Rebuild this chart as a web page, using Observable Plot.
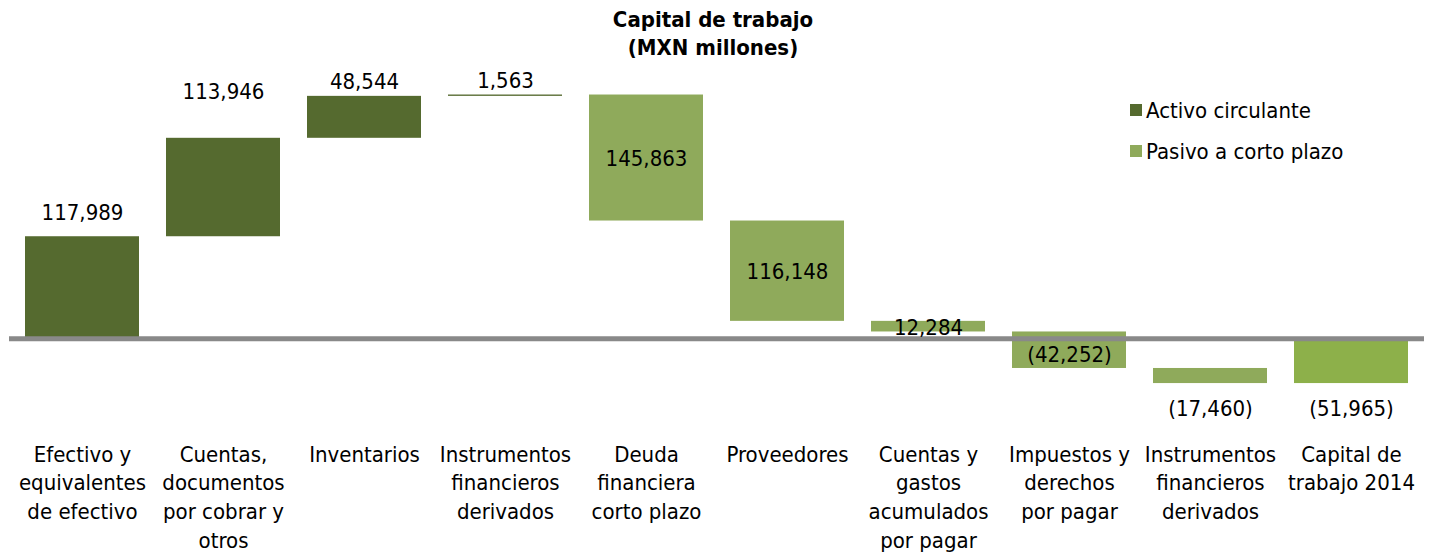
<!DOCTYPE html>
<html><head><meta charset="utf-8">
<script src="https://cdn.jsdelivr.net/npm/d3@7"></script>
<script src="https://cdn.jsdelivr.net/npm/@observablehq/plot@0.6"></script>
<style>
body{margin:0;background:#fff;font-family:"DejaVu Sans Condensed","DejaVu Sans",sans-serif;font-stretch:condensed;color:#000;}
#wrap{position:relative;width:1440px;height:552px;overflow:hidden;}
#title{height:62px;box-sizing:border-box;padding-top:6px;text-align:center;font-weight:bold;font-size:22px;line-height:28px;width:1426px;}
#legend{position:absolute;left:1130px;top:96px;font-size:22px;}
.item{display:flex;align-items:center;height:28px;margin-bottom:13px;white-space:nowrap;}
.sw{width:12px;height:12px;margin-right:4px;flex:none;}
</style></head>
<body><div id="wrap">
<div id="title">Capital de trabajo<br>(MXN millones)</div>
<div id="chart"></div>
<div id="legend"></div>
</div>
<script>
const categories = [
  "Efectivo y\nequivalentes\nde efectivo",
  "Cuentas,\ndocumentos\npor cobrar y\notros",
  "Inventarios",
  "Instrumentos\nfinancieros\nderivados",
  "Deuda\nfinanciera\ncorto plazo",
  "Proveedores",
  "Cuentas y\ngastos\nacumulados\npor pagar",
  "Impuestos y\nderechos\npor pagar",
  "Instrumentos\nfinancieros\nderivados",
  "Capital de\ntrabajo 2014"
];
const values = [117989, 113946, 48544, 1563, -145863, -116148, -12284, -42252, -17460, -51965];
const groups = ["activo", "activo", "activo", "activo", "pasivo", "pasivo", "pasivo", "pasivo", "pasivo", "total"];
const legendLabels = ["Activo circulante", "Pasivo a corto plazo"];

const colors = {activo: "#556a2f", pasivo: "#8faa5b", total: "#8db04a"};
const FONT = "'DejaVu Sans Condensed','DejaVu Sans',sans-serif";
// label nudges (style only)
const assetLabelDy = [-24, -46, -14, -14];

let run = 0;
const rows = categories.map((c, i) => {
  const v = values[i], g = groups[i];
  let y1, y2;
  if (g === "total") { y1 = 0; y2 = v; } else { y1 = run; y2 = run + v; run = y2; }
  return {i, c, v, g, y1, y2, lo: Math.min(y1, y2), hi: Math.max(y1, y2)};
});
const fmt = d3.format(",");
const labelText = r => r.y2 < 0 ? "(" + fmt(Math.abs(r.v)) + ")" : fmt(Math.abs(r.v));

const labelMarks = rows.map(r => {
  let y, dy;
  if (r.g === "activo") { y = r.hi; dy = assetLabelDy[r.i]; }
  else if (r.hi <= 0) { y = r.lo; dy = 25; }
  else { y = (r.lo + r.hi) / 2; dy = r.lo < 0 ? 5 : 1; }
  return Plot.text([r], {x: "i", y: () => y, dy, text: labelText, fontSize: 22, fontFamily: FONT, fill: "#000"});
});

const chart = Plot.plot({
  width: 1440,
  height: 490,
  marginTop: 17,
  marginBottom: 162,
  marginLeft: 9,
  marginRight: 16,
  style: "font-family:" + FONT + ";font-stretch:condensed;background:#fff;overflow:visible;",
  x: {type: "band", domain: d3.range(categories.length), paddingInner: 0.194, paddingOuter: 0.097, axis: null},
  y: {domain: [-60000, 300000], axis: null},
  marks: [
    Plot.barY(rows, {x: "i", y1: "y1", y2: "y2", fill: r => colors[r.g], insetTop: 0, insetBottom: 0}),
    Plot.ruleY([0], {stroke: "#898989", strokeWidth: 5}),
    ...labelMarks,
    Plot.axisX({tickSize: 0, tickPadding: 51, tickFormat: i => categories[i], fontSize: 22, lineHeight: 1.3, label: null, fill: "#000"})
  ]
});
document.getElementById("chart").appendChild(chart);

const leg = document.getElementById("legend");
[["activo", legendLabels[0]], ["pasivo", legendLabels[1]]].forEach(([k, t]) => {
  const d = document.createElement("div"); d.className = "item";
  const s = document.createElement("span"); s.className = "sw"; s.style.background = colors[k];
  const l = document.createElement("span"); l.textContent = t;
  d.appendChild(s); d.appendChild(l); leg.appendChild(d);
});
</script>
</body></html>
